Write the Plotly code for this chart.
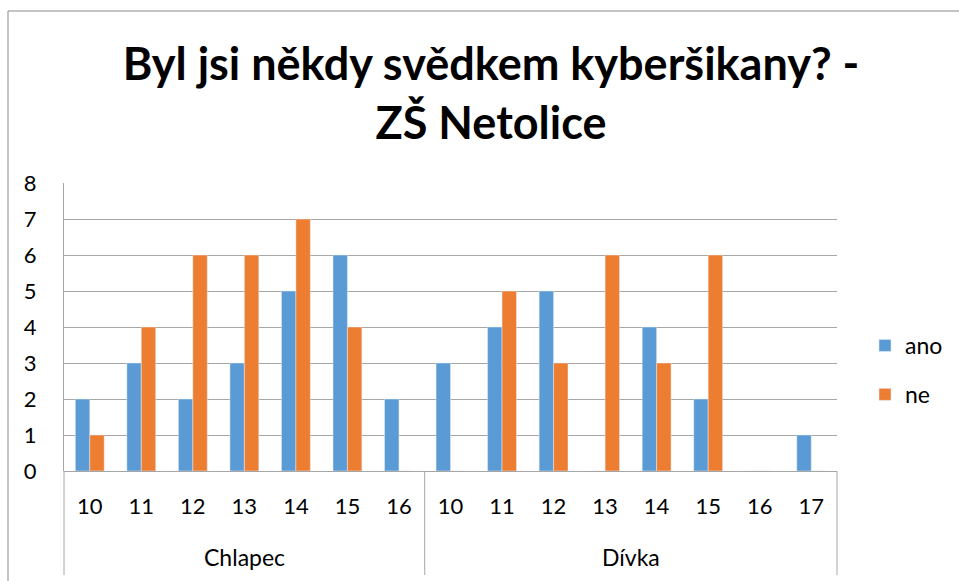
import plotly.graph_objects as go

groups = ["Chlapec", "Dívka"]
ages_chlapec = ["10", "11", "12", "13", "14", "15", "16"]
ages_divka = ["10", "11", "12", "13", "14", "15", "16", "17"]
ano_chlapec = [2, 3, 2, 3, 5, 6, 2]
ne_chlapec = [1, 4, 6, 6, 7, 4, 0]
ano_divka = [3, 4, 5, 0, 4, 2, 0, 1]
ne_divka = [0, 5, 3, 6, 3, 6, 0, 0]
title_text = "Byl jsi někdy svědkem kyberšikany? -<br>ZŠ Netolice"

keys = [f"C{a}" for a in ages_chlapec] + [f"D{a}" for a in ages_divka]
ticktext = ages_chlapec + ages_divka
ano = ano_chlapec + ano_divka
ne = ne_chlapec + ne_divka

FONT = "Lato"
W, H = 959, 581
L, R, T, B = 64, 122, 183, 110
pw, ph = W - L - R, H - T - B

def px_x(x):
    return (x - L) / pw

def px_y(y):
    return (H - B - y) / ph

fig = go.Figure()
fig.add_bar(x=keys, y=ano, name="ano", marker_color="#5B9BD5", legendgroup="a")
fig.add_bar(x=keys, y=ne, name="ne", marker_color="#ED7D31", legendgroup="b")

n = len(keys)
shapes = []
for frac in [0, len(ages_chlapec) / n, 1]:
    shapes.append(dict(type="line", xref="paper", yref="paper", x0=frac, x1=frac,
                       y0=0, y1=px_y(575), line=dict(color="#A6A6A6", width=1)))
shapes.append(dict(type="line", xref="paper", yref="paper", x0=px_x(8), x1=px_x(8),
                   y0=px_y(11), y1=px_y(600), line=dict(color="#898989", width=1)))
shapes.append(dict(type="line", xref="paper", yref="paper", x0=px_x(8), x1=px_x(970),
                   y0=px_y(11), y1=px_y(11), line=dict(color="#898989", width=1)))

annotations = []
nc = len(ages_chlapec)
annotations.append(dict(text=groups[0], xref="paper", yref="paper", x=(nc / 2) / n, y=px_y(557),
                        showarrow=False, font=dict(family=FONT, size=23, color="#000"),
                        xanchor="center", yanchor="middle"))
annotations.append(dict(text=groups[1], xref="paper", yref="paper", x=(nc + len(ages_divka) / 2) / n,
                        y=px_y(557), showarrow=False, font=dict(family=FONT, size=23, color="#000"),
                        xanchor="center", yanchor="middle"))

fig.update_layout(
    width=W, height=H,
    margin=dict(l=L, r=R, t=T, b=B, autoexpand=False),
    paper_bgcolor="white", plot_bgcolor="white",
    title=dict(text=title_text, x=px_x(491), xref="paper", xanchor="center",
               y=1 - 80 / H, yanchor="middle",
               font=dict(family=FONT, size=45, color="#000", weight="bold")),
    barmode="group", bargap=0.44, bargroupgap=0,
    font=dict(family=FONT, size=22, color="#000"),
    legend=dict(x=px_x(865), y=px_y(370), xanchor="left", yanchor="middle",
                font=dict(family=FONT, size=23, color="#000"),
                tracegroupgap=16, traceorder="grouped"),
    shapes=shapes, annotations=annotations,
    xaxis=dict(type="category", tickmode="array", tickvals=keys, ticktext=ticktext,
               showgrid=False, showline=False, ticks="", ticklabelstandoff=20,
               tickfont=dict(family=FONT, size=22, color="#000"), range=[-0.5, n - 0.5]),
    yaxis=dict(range=[0, 8], dtick=1, showgrid=True, gridcolor="#A6A6A6", gridwidth=1,
               zeroline=True, zerolinecolor="#A6A6A6", zerolinewidth=1,
               showline=True, linecolor="#A6A6A6", linewidth=1,
               ticks="", ticklabelstandoff=22,
               tickfont=dict(family=FONT, size=22, color="#000")),
)

fig.write_html("out.html", config={"displayModeBar": False},
               post_script="document.body.style.margin='0';")
